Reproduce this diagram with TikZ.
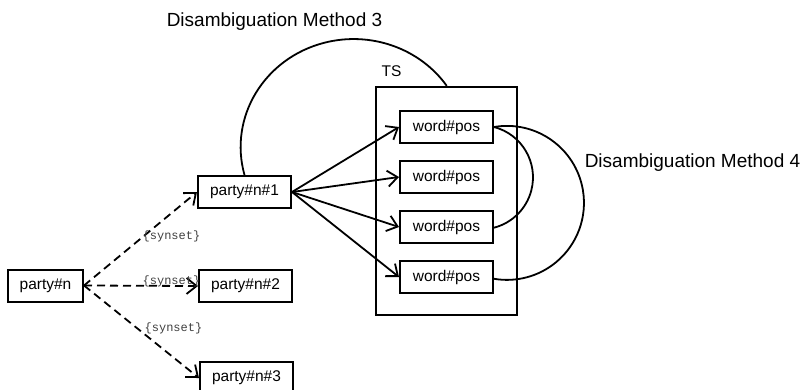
\documentclass[tikz,border=0pt]{standalone}
\usepackage{fontspec}
\setmainfont{Liberation Sans}
\setmonofont{Liberation Mono}
\usetikzlibrary{arrows.meta}
\definecolor{lblgray}{HTML}{404040}
\begin{document}
\begin{tikzpicture}[x=1pt,y=-1pt,
  box/.style={draw, line width=2pt, rectangle, inner sep=0pt, minimum height=32pt,
    font=\fontsize{15.5}{17}\selectfont},
  wbox/.style={box, minimum width=93pt},
  arr/.style={line width=1.8pt, -{Straight Barb[length=10pt,width=16pt,line width=1.8pt]}},
  darr/.style={arr, dash pattern=on 8pt off 5pt},
  syn/.style={text=lblgray, font=\ttfamily\fontsize{12}{13}\selectfont, inner sep=0pt},
  big/.style={font=\fontsize{19}{21}\selectfont, inner sep=0pt},
  curve/.style={line width=1.8pt}
]
\useasboundingbox (0,0) rectangle (801,389);
\clip (0,0) rectangle (801,389);

\node[box, minimum width=141pt, minimum height=228pt] (ts) at (446.5,201) {};
\node[font=\fontsize{15.5}{17}\selectfont, inner sep=0pt] (tslbl) at (391.5,71.5) {TS};

\node[box, minimum width=75pt] (pn) at (45.5,285.5) {party\#n};
\node[wbox] (p1) at (244.5,192) {party\#n\#1};
\node[wbox] (p2) at (245.5,286) {party\#n\#2};
\node[wbox] (p3) at (246.5,378) {party\#n\#3};

\node[wbox] (w1) at (446.5,127) {word\#pos};
\node[wbox] (w2) at (446.5,177) {word\#pos};
\node[wbox] (w3) at (446.5,227) {word\#pos};
\node[wbox] (w4) at (446.5,277) {word\#pos};

\foreach \w in {w1,w2,w3,w4} \draw[arr] (p1.east) -- (\w.west);

\draw[darr] (pn.east) -- (p1.west);
\draw[darr] (pn.east) -- (p2.west);
\draw[darr] (pn.east) -- (p3.west);

\node[syn] (s1) at (171.5,236) {\{synset\}};
\node[syn] (s2) at (171.5,281) {\{synset\}};
\node[syn] (s3) at (173.5,328) {\{synset\}};

\draw[curve] (p1.north) arc[start angle=-195, end angle=-34.5, x radius=113, y radius=108];
\draw[curve] (w1.east) arc[start angle=-75.5, end angle=75.5, radius=52];
\draw[curve] (w1.east) arc[start angle=-99.7, end angle=99.7, radius=77];

\node[big] (m3) at (274.5,22) {Disambiguation Method 3};
\node[big] (m4) at (692.5,163) {Disambiguation Method 4};
\end{tikzpicture}
\end{document}
